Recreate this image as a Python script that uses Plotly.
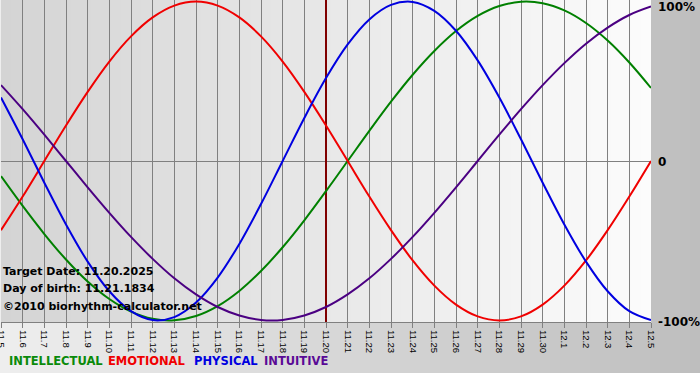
import plotly.graph_objects as go

# ---- data ----
dates = ["11.5", "11.6", "11.7", "11.8", "11.9", "11.10", "11.11", "11.12", "11.13", "11.14",
         "11.15", "11.16", "11.17", "11.18", "11.19", "11.20", "11.21", "11.22", "11.23", "11.24",
         "11.25", "11.26", "11.27", "11.28", "11.29", "11.30", "12.1", "12.2", "12.3", "12.4", "12.5"]

intellectual = [-0.095, -0.282, -0.458, -0.618, -0.756, -0.866, -0.945, -0.990, -0.999, -0.972,
                -0.910, -0.815, -0.690, -0.541, -0.372, -0.189, 0.0, 0.189, 0.372, 0.541,
                0.690, 0.815, 0.910, 0.972, 0.999, 0.990, 0.945, 0.866, 0.756, 0.618, 0.458]

emotional = [-0.434, -0.223, 0.0, 0.223, 0.434, 0.624, 0.782, 0.901, 0.975, 1.0,
             0.975, 0.901, 0.782, 0.624, 0.434, 0.223, 0.0, -0.223, -0.434, -0.624,
             -0.782, -0.901, -0.975, -1.0, -0.975, -0.901, -0.782, -0.624, -0.434, -0.223, 0.0]

physical = [0.398, 0.136, -0.136, -0.398, -0.631, -0.817, -0.942, -0.998, -0.979, -0.888,
            -0.731, -0.520, -0.270, 0.0, 0.270, 0.520, 0.731, 0.888, 0.979, 0.998,
            0.942, 0.817, 0.631, 0.398, 0.136, -0.136, -0.398, -0.631, -0.817, -0.942, -0.998]

intuitive = [0.476, 0.325, 0.165, 0.0, -0.165, -0.325, -0.476, -0.614, -0.736, -0.837,
             -0.916, -0.969, -0.997, -0.997, -0.969, -0.916, -0.837, -0.736, -0.614, -0.476,
             -0.325, -0.165, 0.0, 0.165, 0.325, 0.476, 0.614, 0.736, 0.837, 0.916, 0.969]

target_label = "11.20"
info_lines = ["Target Date: 11.20.2025", "Day of birth: 11.21.1834", "\u00a92010 biorhythm-calculator.net"]
series_names = ["INTELLECTUAL", "EMOTIONAL", "PHYSICAL", "INTUITIVE"]
y_labels = ["100%", "0", "-100%"]
y_label_vals = [1, 0, -1]

# ---- styling ----
W, H = 700, 380
L, R, T, B = 1, 49, 0, 58
PW, PH = W - L - R, H - T - B

line_colors = ["#008000", "#f00000", "#0000e0", "#4b0082"]
text_colors = ["#0a8a0a", "#f00000", "#0000e0", "#5a0a96"]

def px_x(px):
    return (px - L) / PW

def px_y(py):
    return (H - B - py) / PH

def gray(v):
    v = int(round(v))
    return f"rgb({v},{v},{v})"

shapes = []
step = 10
for i in range(0, W, step):
    t = (i + step / 2) / W
    shapes.append(dict(type="rect", xref="paper", yref="paper", layer="below",
                       x0=px_x(i), x1=px_x(i + step), y0=px_y(373), y1=px_y(0),
                       fillcolor=gray(238 + (190 - 238) * t), line=dict(width=0)))
shapes.append(dict(type="rect", xref="paper", yref="paper", layer="below",
                   x0=px_x(0), x1=px_x(W), y0=px_y(H), y1=px_y(373),
                   fillcolor="#ffffff", line=dict(width=0)))
for i in range(L, L + PW, step):
    t = (i - L + step / 2) / PW
    shapes.append(dict(type="rect", xref="paper", yref="paper", layer="below",
                       x0=px_x(i), x1=px_x(min(i + step, L + PW)), y0=0, y1=1,
                       fillcolor=gray(212 + (252 - 212) * t), line=dict(width=0)))

xs = list(range(len(dates)))
tx = dates.index(target_label)
shapes.append(dict(type="line", xref="x", yref="y", layer="between",
                   x0=tx, x1=tx, y0=-1.01, y1=1.01, line=dict(color="#800000", width=2)))

fig = go.Figure()
for name, vals, col in zip(series_names, [intellectual, emotional, physical, intuitive], line_colors):
    fig.add_trace(go.Scatter(x=xs, y=vals, mode="lines", name=name,
                             line=dict(color=col, width=2, shape="spline"),
                             hoverinfo="skip", showlegend=False))

annotations = []
for i, txt in enumerate(info_lines):
    annotations.append(dict(xref="paper", yref="paper", x=px_x(1), y=px_y([271, 288, 306][i]),
                            xanchor="left", yanchor="middle", showarrow=False,
                            text=f"<b>{txt}</b>",
                            font=dict(family="DejaVu Sans", size=11, color="#000000")))
for name, col, px in zip(series_names, text_colors, [7, 106, 192, 262]):
    annotations.append(dict(xref="paper", yref="paper", x=px_x(px), y=px_y(361),
                            xanchor="left", yanchor="middle", showarrow=False,
                            text=f"<b>{name}</b>",
                            font=dict(family="DejaVu Sans", size=11.5, color=col)))
for lab, v, py in zip(y_labels, y_label_vals, [7, 162, 322]):
    annotations.append(dict(xref="paper", yref="paper", x=px_x(656), y=px_y(py),
                            xanchor="left", yanchor="middle", showarrow=False,
                            text=f"<b>{lab}</b>",
                            font=dict(family="DejaVu Sans", size=12, color="#000000")))

fig.update_layout(
    width=W, height=H,
    margin=dict(l=L, r=R, t=T, b=B, pad=0),
    paper_bgcolor="#ffffff",
    plot_bgcolor="rgba(0,0,0,0)",
    shapes=shapes,
    annotations=annotations,
    xaxis=dict(range=[0, len(dates) - 1], tickmode="array", tickvals=xs, ticktext=dates,
               tickangle=90, ticks="outside", ticklen=5, tickcolor="#808080",
               showgrid=True, gridcolor="#808080", gridwidth=1,
               showline=True, linecolor="#808080", linewidth=1, zeroline=False,
               ticklabeloverflow="allow", automargin=False,
               tickfont=dict(family="Liberation Sans", size=9.5, color="#000000"),
               fixedrange=True),
    yaxis=dict(range=[-1.01, 1.01], showgrid=False, zeroline=True, automargin=False,
               zerolinecolor="#808080", zerolinewidth=1, showticklabels=False,
               ticks="", fixedrange=True),
)

fig.write_html("out.html")
